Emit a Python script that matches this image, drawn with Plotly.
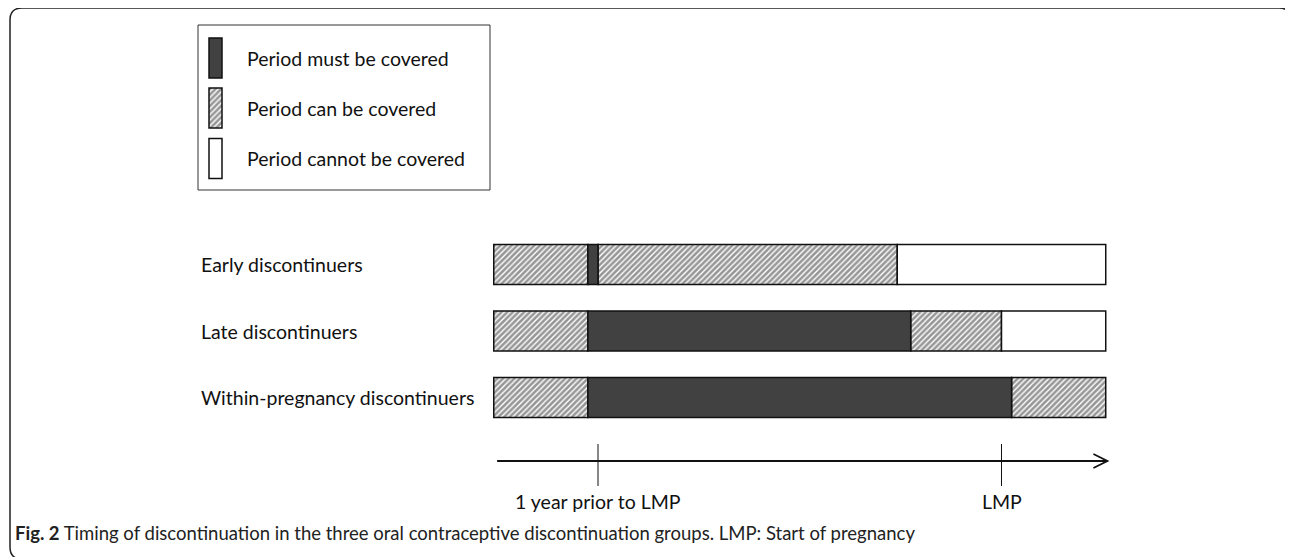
import plotly.graph_objects as go

# ---------------- data ----------------
groups = ["Early discontinuers", "Late discontinuers", "Within-pregnancy discontinuers"]
# segment boundaries in months (0 = 1 year prior to LMP, 12 = LMP)
early_bounds = [-3.1, -0.3, 0.0, 8.9, 15.1]
early_types = ["can", "must", "can", "cannot"]
late_bounds = [-3.1, -0.3, 9.3, 12.0, 15.1]
late_types = ["can", "must", "can", "cannot"]
within_bounds = [-3.1, -0.3, 12.3, 15.1]
within_types = ["can", "must", "can"]

legend_types = ["must", "can", "cannot"]
legend_labels = ["Period must be covered", "Period can be covered", "Period cannot be covered"]

tick_positions = [0, 12]
tick_labels = ["1 year prior to LMP", "LMP"]
axis_start, axis_end = -3.0, 15.15

caption = "<b>Fig. 2</b> Timing of discontinuation in the three oral contraceptive discontinuation groups. LMP: Start of pregnancy"

# ---------------- layout constants ----------------
W, H = 1293, 557
OX, OY = 8, 8            # page body margin offset
PX_PER_MONTH = 33.625
X0_PX = 598.0            # screen x of month 0
ROW0_PX, ROW_STEP = 264.5, 66.5
x_range = [-(X0_PX - OX) / PX_PER_MONTH, (W - (X0_PX - OX)) / PX_PER_MONTH]
y_range = [(H - (ROW0_PX - OY)) / ROW_STEP, -(ROW0_PX - OY) / ROW_STEP]

FONT = "Lato"
FS = 19.5
DARK = "#414141"
HATCH_FG = "#2e2e2e"

styles = {
    "must": dict(color=DARK),
    "can": dict(color="white", pattern=dict(shape="/", fgcolor=HATCH_FG, bgcolor="white",
                                            size=4, solidity=0.65, fillmode="overlay")),
    "cannot": dict(color="white"),
}

segments = {"must": ([], [], []), "can": ([], [], []), "cannot": ([], [], [])}
for gi, (bounds, types) in enumerate([(early_bounds, early_types),
                                      (late_bounds, late_types),
                                      (within_bounds, within_types)]):
    for k, t in enumerate(types):
        ys, bases, lens = segments[t]
        ys.append(gi)
        bases.append(bounds[k])
        lens.append(bounds[k + 1] - bounds[k])

fig = go.Figure()
for t in ["can", "must", "cannot"]:
    ys, bases, lens = segments[t]
    fig.add_trace(go.Bar(
        orientation="h", y=ys, x=lens, base=bases, width=0.6,
        marker=dict(**styles[t], line=dict(color="#111", width=1.5)),
        xaxis="x", yaxis="y", hoverinfo="skip", showlegend=False))

# legend swatches (screen-pixel axes)
leg_y = [58, 108, 158.5]
for t, yy in zip(legend_types, leg_y):
    fig.add_trace(go.Bar(
        orientation="h", y=[yy], x=[13], base=[209], width=40,
        marker=dict(**styles[t], line=dict(color="#111", width=1.5)),
        xaxis="x2", yaxis="y2", hoverinfo="skip", showlegend=False))

shapes = []
annotations = []

# legend box
shapes.append(dict(type="rect", xref="x2", yref="y2", x0=198, x1=490, y0=25, y1=190,
                   line=dict(color="#333", width=1), fillcolor="rgba(0,0,0,0)", layer="below"))
for lab, yy in zip(legend_labels, leg_y):
    annotations.append(dict(xref="x2", yref="y2", x=245, y=yy, text=lab, showarrow=False,
                            xanchor="left", yanchor="middle",
                            font=dict(family=FONT, size=FS, color="#111")))

# group labels
for gi, g in enumerate(groups):
    annotations.append(dict(xref="x2", yref="y", x=199, y=gi, text=g, showarrow=False,
                            xanchor="left", yanchor="middle",
                            font=dict(family=FONT, size=FS, color="#111")))

# time axis
AXIS_Y = 461
shapes.append(dict(type="line", xref="x", yref="y2", x0=axis_start, x1=axis_end,
                   y0=AXIS_Y, y1=AXIS_Y, line=dict(color="#111", width=2)))
tip = X0_PX + axis_end * PX_PER_MONTH
shapes.append(dict(type="path", xref="x2", yref="y2",
                   path=f"M {tip-14},{AXIS_Y-7} L {tip},{AXIS_Y} L {tip-14},{AXIS_Y+7}",
                   line=dict(color="#111", width=1.8)))
for tp, tl in zip(tick_positions, tick_labels):
    shapes.append(dict(type="line", xref="x", yref="y2", x0=tp, x1=tp, y0=444, y1=486,
                       line=dict(color="#111", width=1)))
    annotations.append(dict(xref="x", yref="y2", x=tp, y=501, text=tl, showarrow=False,
                            xanchor="center", yanchor="middle",
                            font=dict(family=FONT, size=FS, color="#111")))

# caption
annotations.append(dict(xref="x2", yref="y2", x=13, y=533, text=caption, showarrow=False,
                        xanchor="left", yanchor="middle",
                        font=dict(family=FONT, size=18.5, color="#222")))

# rounded frame
r = 12
fx0, fx1, fy0, fy1 = 10, 1291, 8, 559
frame = (f"M {fx0+r},{fy0} L {fx1-r},{fy0} Q {fx1},{fy0} {fx1},{fy0+r} "
         f"L {fx1},{fy1-r} Q {fx1},{fy1} {fx1-r},{fy1} L {fx0+r},{fy1} "
         f"Q {fx0},{fy1} {fx0},{fy1-r} L {fx0},{fy0+r} Q {fx0},{fy0} {fx0+r},{fy0} Z")
shapes.append(dict(type="path", xref="x2", yref="y2", path=frame,
                   line=dict(color="#222", width=1.5), fillcolor="rgba(0,0,0,0)"))

fig.update_layout(
    width=W, height=H, margin=dict(l=0, r=0, t=0, b=0),
    paper_bgcolor="white", plot_bgcolor="rgba(0,0,0,0)",
    barmode="overlay", showlegend=False, hovermode=False,
    xaxis=dict(range=x_range, visible=False, domain=[0, 1], fixedrange=True),
    yaxis=dict(range=y_range, visible=False, domain=[0, 1], fixedrange=True),
    xaxis2=dict(range=[OX, W + OX], visible=False, overlaying="x", fixedrange=True),
    yaxis2=dict(range=[H + OY, OY], visible=False, overlaying="y", fixedrange=True),
    shapes=shapes, annotations=annotations,
)

fig.write_html("out.html", config={"displayModeBar": False})
